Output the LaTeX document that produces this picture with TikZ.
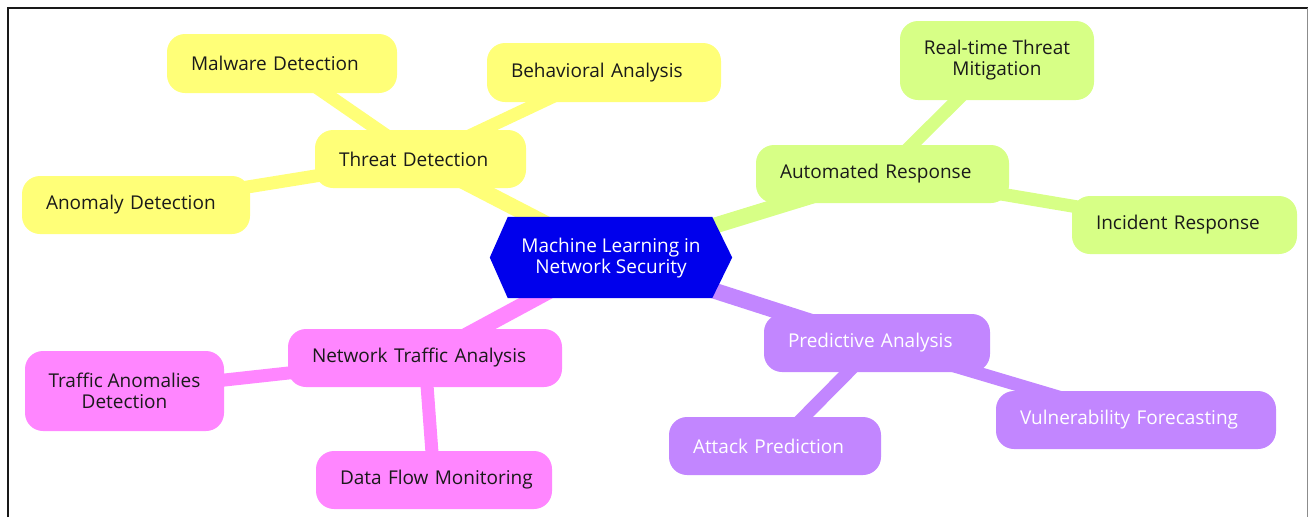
\documentclass[tikz,border=0pt]{standalone}
\usepackage{fontspec}
\setmainfont{Open Sans}
\usetikzlibrary{calc,backgrounds}
\definecolor{rootblue}{HTML}{0000EC}
\definecolor{secyellow}{HTML}{FFFF78}
\definecolor{secgreen}{HTML}{D7FF86}
\definecolor{secpink}{HTML}{FF86FF}
\definecolor{secpurple}{HTML}{C286FF}
\definecolor{inkdark}{HTML}{1A1A1A}
\tikzset{
  topic/.style={rounded corners=18pt, inner sep=0pt, align=center,
    font=\fontsize{19}{21}\selectfont, text=inkdark},
  % one-line topics: text starts 24pt from the left edge
  oneline/.style={topic, inner xsep=24pt, align=left, text width=#1},
  darktext/.style={text=white},
  mainlink/.style={line width=16pt},
  leaflink/.style={line width=13pt},
}
\begin{document}
\begin{tikzpicture}[x=1pt,y=-1pt]
\useasboundingbox (0,0) rectangle (1309,517);

% frame
\draw[line width=2pt, black!90] (8,517) -- (8,8) -- (1307.5,8);
\draw[line width=1.2pt, black!45] (1307.5,8) -- (1307.5,517);

% root: hexagon around the title
\node[inner sep=0pt, minimum width=242pt, minimum height=81pt] (root) at (611,257.5) {};
\fill[rootblue] (root.west) -- ($(root.north west)+(18,0)$) -- ($(root.north east)+(-20,0)$)
  -- (root.east) -- ($(root.south east)+(-20,0)$) -- ($(root.south west)+(18,0)$) -- cycle;
\node[align=center, text=white, font=\fontsize{19}{21}\selectfont] (roottext) at ($(root.center)+(0,1)$)
  {Machine Learning in\\Network Security};

% section and leaf nodes
\node[oneline=163pt, fill=secyellow, minimum height=58pt] (threat) at (420.5,159) {\mbox{Threat Detection}};
\node[oneline=182pt, fill=secyellow, minimum height=59pt] (malware) at (282,63.5) {\mbox{Malware Detection}};
\node[oneline=186pt, fill=secyellow, minimum height=59pt] (behav) at (604,72.5) {\mbox{Behavioral Analysis}};
\node[oneline=180pt, fill=secyellow, minimum height=58pt] (anomaly) at (136,205) {\mbox{Anomaly Detection}};

\node[oneline=205pt, fill=secgreen, minimum height=58pt] (auto) at (882.5,174) {\mbox{Automated Response}};
\node[topic, fill=secgreen, minimum width=194pt, minimum height=79pt] (realtime) at (997,60.5) {Real-time Threat\\Mitigation};
\node[oneline=177pt, fill=secgreen, minimum height=58pt] (incident) at (1184.5,225) {\mbox{Incident Response}};

\node[oneline=226pt, fill=secpink, minimum height=58pt] (nta) at (425,358) {\mbox{Network Traffic Analysis}};
\node[topic, fill=secpink, minimum width=199pt, minimum height=80pt] (tad) at (124.5,391) {Traffic Anomalies\\Detection};
\node[oneline=188pt, fill=secpink, minimum height=58pt] (dfm) at (434,480) {\mbox{Data Flow Monitoring}};

\node[oneline=178pt, darktext, fill=secpurple, minimum height=58pt] (pred) at (877,343) {\mbox{Predictive Analysis}};
\node[oneline=164pt, darktext, fill=secpurple, minimum height=58pt] (attack) at (775,446) {\mbox{Attack Prediction}};
\node[oneline=232pt, darktext, fill=secpurple, minimum height=58pt] (vuln) at (1136,420) {\mbox{Vulnerability Forecasting}};

% links between node centres, behind the nodes
\begin{scope}[on background layer]
  \draw[mainlink, secyellow] (root.center) -- (threat.center);
  \draw[leaflink, secyellow] (threat.center) -- (malware.center);
  \draw[leaflink, secyellow] (threat.center) -- (behav.center);
  \draw[leaflink, secyellow] (threat.center) -- (anomaly.center);
  \draw[mainlink, secgreen] (root.center) -- (auto.center);
  \draw[leaflink, secgreen] (auto.center) -- (realtime.center);
  \draw[leaflink, secgreen] (auto.center) -- (incident.center);
  \draw[mainlink, secpink] (root.center) -- (nta.center);
  \draw[leaflink, secpink] (nta.center) -- (tad.center);
  \draw[leaflink, secpink] (nta.center) -- (dfm.center);
  \draw[mainlink, secpurple] (root.center) -- (pred.center);
  \draw[leaflink, secpurple] (pred.center) -- (attack.center);
  \draw[leaflink, secpurple] (pred.center) -- (vuln.center);
\end{scope}
\end{tikzpicture}
\end{document}
